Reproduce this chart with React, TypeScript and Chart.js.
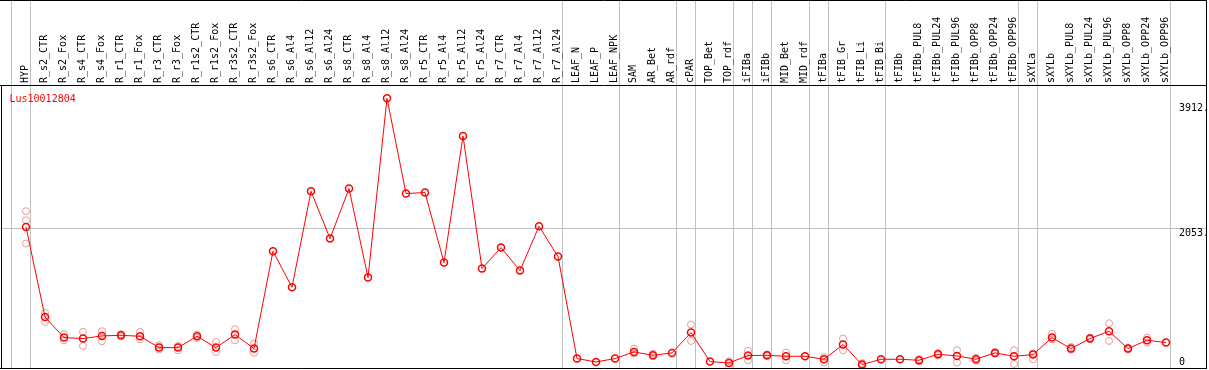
import { useEffect, useRef } from "react";
import { Chart, registerables } from "chart.js";

Chart.register(...registerables);

const chartTitle = "Lus10012804";

const categories = [
  "HYP", "R_s2_CTR", "R_s2_Fox", "R_s4_CTR", "R_s4_Fox", "R_r1_CTR", "R_r1_Fox",
  "R_r3_CTR", "R_r3_Fox", "R_r1s2_CTR", "R_r1s2_Fox", "R_r3s2_CTR", "R_r3s2_Fox",
  "R_s6_CTR", "R_s6_Al4", "R_s6_Al12", "R_s6_Al24", "R_s8_CTR", "R_s8_Al4", "R_s8_Al12",
  "R_s8_Al24", "R_r5_CTR", "R_r5_Al4", "R_r5_Al12", "R_r5_Al24", "R_r7_CTR", "R_r7_Al4",
  "R_r7_Al12", "R_r7_Al24", "LEAF_N", "LEAF_P", "LEAF_NPK", "SAM", "AR_Bet", "AR_rdf",
  "cPAR", "TOP_Bet", "TOP_rdf", "iFIBa", "iFIBb", "MID_Bet", "MID_rdf", "tFIBa",
  "tFIB_Gr", "tFIB_Li", "tFIB_Bi", "tFIBb", "tFIBb_PUL8", "tFIBb_PUL24", "tFIBb_PUL96",
  "tFIBb_OPP8", "tFIBb_OPP24", "tFIBb_OPP96", "sXYLa", "sXYLb", "sXYLb_PUL8",
  "sXYLb_PUL24", "sXYLb_PUL96", "sXYLb_OPP8", "sXYLb_OPP24", "sXYLb_OPP96",
];

const meanValues = [
  2072, 785, 490, 476, 514, 523, 509, 347, 347, 509, 347, 533, 333,
  1725, 1210, 2583, 1906, 2621, 1348, 3912, 2550, 2564, 1563, 3373, 1477,
  1777, 1449, 2082, 1649, 190, 142, 190, 285, 237, 271, 562, 147, 128,
  233, 237, 223, 223, 180, 390, 104, 180, 180, 166, 252, 228, 180, 271,
  223, 247, 490, 333, 476, 581, 333, 452, 419,
];

const repHigh = [
  2297, 843, 538, 571, 581, 540, 571, 380, 370, 533, 428, 609, 404,
  null, null, null, null, null, null, null, null, null, null, null, null,
  null, null, null, null, null, null, null, 333, 262, null, 676, null, 152,
  299, 250, 276, null, 213, 476, 125, null, null, 180, 270, 309, 200, 285,
  309, 262, 547, 356, 490, 695, 345, 490, null,
];

const repLow = [
  1835, 714, 452, 370, 438, 505, 466, 319, 309, 485, 285, 452, 271,
  null, null, null, null, null, null, null, null, null, null, null, null,
  null, null, null, null, null, null, null, 262, 222, null, 442, null, 80,
  166, 225, 166, null, 133, 309, 90, null, null, 150, 235, 133, 160, 260,
  113, 180, 466, 315, 465, 442, 320, 419, null,
];

const repExtra = [
  2168, null, null, null, null, null, null, null, null, null, null, null, null,
  null, null, null, null, null, null, null, null, null, null, null, null,
  null, null, null, null, null, null, null, null, null, null, null, null, null,
  null, null, null, null, null, null, null, null, null, null, null, null, null, null,
  null, null, null, null, null, null, null, null, null,
];

const yTickValues = [0, 2053, 3912];
const referenceLine = 2053;
// group separators are drawn just after these category indices
const groupBreaks = [-1, 0, 28, 31, 34, 35, 37, 38, 39, 41, 42, 45, 52, 53, 60];

const FONT = "10px 'DejaVu Sans Mono', monospace";
const SLOT = 19;

const overlayPlugin = {
  id: "overlay",
  beforeDatasetsDraw(chart: any) {
    const { ctx, chartArea, scales } = chart;
    const xs = scales.x;
    const ys = scales.y;
    ctx.save();
    ctx.strokeStyle = "#c0c0c0";
    ctx.lineWidth = 1;
    groupBreaks.forEach((b) => {
      const px = Math.floor(xs.getPixelForValue(b + 4 / SLOT)) + 0.5;
      ctx.beginPath();
      ctx.moveTo(px, 0);
      ctx.lineTo(px, chartArea.bottom);
      ctx.stroke();
    });
    const py = Math.floor(ys.getPixelForValue(referenceLine)) + 0.5;
    ctx.beginPath();
    ctx.moveTo(chartArea.left, py);
    ctx.lineTo(chartArea.right, py);
    ctx.stroke();
    ctx.restore();
  },
  afterDraw(chart: any) {
    const { ctx, chartArea, scales } = chart;
    const xs = scales.x;
    const ys = scales.y;
    ctx.save();
    // borders
    ctx.strokeStyle = "#000";
    ctx.lineWidth = 1;
    ctx.beginPath();
    ctx.moveTo(0, 0.5);
    ctx.lineTo(chartArea.right, 0.5);
    ctx.moveTo(0, chartArea.top + 0.5);
    ctx.lineTo(chartArea.right, chartArea.top + 0.5);
    ctx.moveTo(chartArea.left + 0.5, chartArea.top);
    ctx.lineTo(chartArea.left + 0.5, chartArea.bottom);
    ctx.moveTo(0, chartArea.bottom - 0.5);
    ctx.lineTo(chartArea.right, chartArea.bottom - 0.5);
    ctx.moveTo(chartArea.right - 0.5, 0);
    ctx.lineTo(chartArea.right - 0.5, chartArea.bottom);
    ctx.stroke();

    // rotated header labels
    ctx.font = FONT;
    ctx.fillStyle = "#000";
    ctx.textAlign = "left";
    ctx.textBaseline = "alphabetic";
    categories.forEach((c, i) => {
      const px = xs.getPixelForValue(i) + 2;
      ctx.save();
      ctx.translate(px, chartArea.top - 2);
      ctx.rotate(-Math.PI / 2);
      ctx.fillText(c, 0, 0);
      ctx.restore();
    });

    // title
    ctx.fillStyle = "#ff0000";
    ctx.fillText(chartTitle, 9.5, chartArea.top + 16.5);

    // y tick labels on the right
    ctx.fillStyle = "#000";
    yTickValues.forEach((v) => {
      let y = ys.getPixelForValue(v) + 8;
      y = Math.max(chartArea.top + 26, Math.min(chartArea.bottom - 4, y));
      const label = v === 0 ? "0" : v.toFixed(0) + ".";
      ctx.fillText(label, 1179, y);
    });
    ctx.restore();
  },
};

export default function App() {
  const ref = useRef<HTMLCanvasElement>(null);
  useEffect(() => {
    const canvas = ref.current;
    if (!canvas) return;
    const meanPoints = meanValues.map((v, i) => ({ x: i, y: v }));
    const repPoints: { x: number; y: number }[] = [];
    [repHigh, repLow, repExtra].forEach((arr) => {
      arr.forEach((v, i) => {
        if (v !== null && v !== undefined) repPoints.push({ x: i, y: v as number });
      });
    });
    const chart = new Chart(canvas, {
      type: "line",
      data: {
        datasets: [
          {
            label: "mean",
            data: meanPoints,
            borderColor: "#ff0000",
            borderWidth: 1,
            pointRadius: 3.5,
            pointBorderWidth: 1.5,
            pointBorderColor: "#ff0000",
            pointBackgroundColor: "rgba(0,0,0,0)",
            pointStyle: "circle",
            tension: 0,
            fill: false,
            order: 0,
          },
          {
            type: "scatter",
            label: "replicates",
            data: repPoints,
            showLine: false,
            pointRadius: 3.5,
            pointBorderWidth: 1,
            pointBorderColor: "#eb9a9a",
            pointBackgroundColor: "rgba(0,0,0,0)",
            order: 1,
          } as any,
        ],
      },
      options: {
        responsive: false,
        animation: false,
        layout: { autoPadding: false, padding: { top: 85, left: 1, right: 2, bottom: 1 } },
        plugins: { legend: { display: false }, tooltip: { enabled: false } },
        scales: {
          x: {
            type: "linear",
            display: false,
            min: -25 / SLOT,
            max: -25 / SLOT + 1206 / SLOT,
          },
          y: {
            type: "linear",
            display: false,
            min: 41,
            max: 4102,
          },
        },
      },
      plugins: [overlayPlugin],
    });
    return () => chart.destroy();
  }, []);
  return (
    <div
      style={{
        position: "fixed",
        left: 0,
        top: 0,
        width: 1209,
        height: 370,
        background: "#fff",
      }}
    >
      <canvas
        ref={ref}
        width={1209}
        height={370}
        style={{ display: "block", width: 1209, height: 370 }}
      />
    </div>
  );
}
